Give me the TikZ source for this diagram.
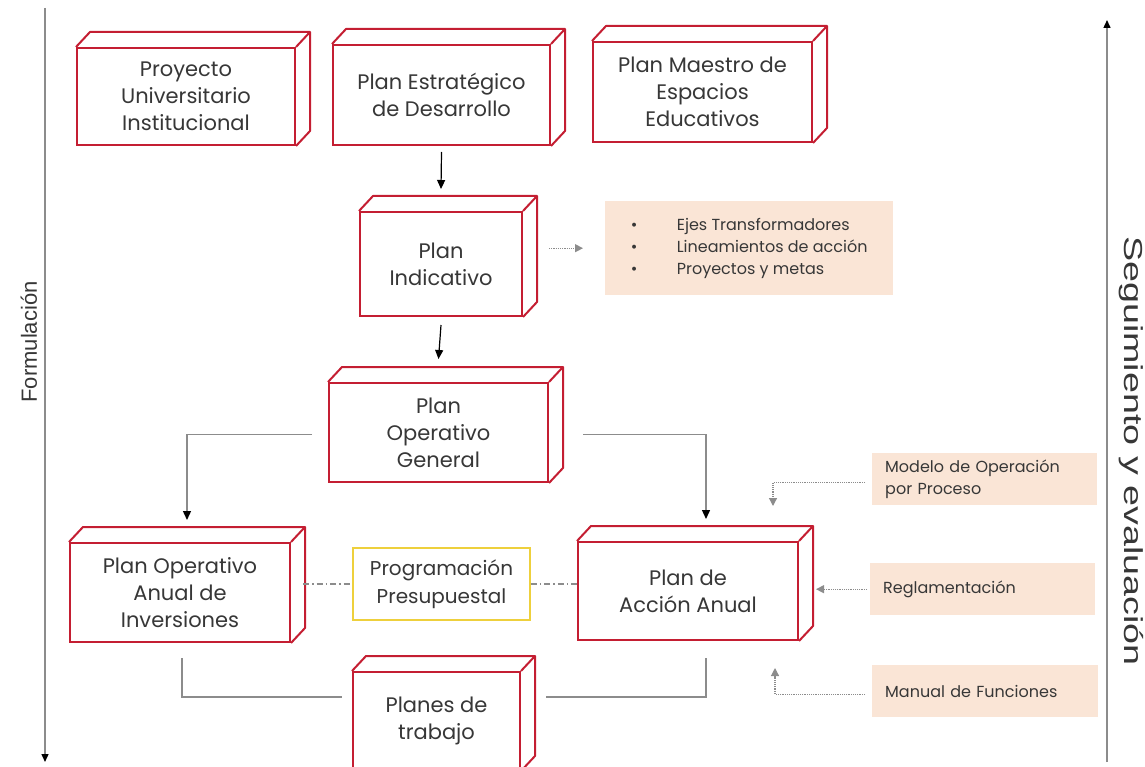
\documentclass[tikz,border=0pt]{standalone}
\usepackage{fontspec}
\setmainfont{Poppins}
\newfontfamily\axisfont{Liberation Sans}
\usetikzlibrary{arrows.meta,calc}
\definecolor{boxred}{RGB}{196,30,50}
\definecolor{peach}{RGB}{250,229,214}
\definecolor{ppyellow}{RGB}{238,208,60}
\definecolor{linegray}{RGB}{140,140,140}
\definecolor{txt}{RGB}{55,55,55}
\begin{document}
\begin{tikzpicture}[x=1pt,y=-1pt,
  cube/.style={draw=boxred,line width=2pt,fill=white,align=center,text=txt,
    font=\fontsize{21}{27}\selectfont,inner sep=0pt},
  cubeline/.style={draw=boxred,line width=2pt,line join=round},
  note/.style={fill=peach,align=left,text=txt,font=\fontsize{16}{22}\selectfont,
    inner ysep=0pt,inner xsep=13pt,anchor=north west},
  budget/.style={draw=ppyellow,line width=1.6pt,fill=white,align=center,text=txt,
    font=\fontsize{20}{28}\selectfont,inner sep=0pt},
  blackarr/.style={draw=black,line width=1.2pt,-{Triangle[length=9pt,width=8pt]}},
  conn/.style={draw=linegray,line width=1.4pt},
  connarr/.style={conn,-{Triangle[length=9pt,width=8pt,color=black]}},
  dashdot/.style={draw=linegray,line width=1.2pt,dash pattern=on 6pt off 3pt on 1.5pt off 3pt},
  dotarr/.style={draw=linegray,line width=1.2pt,densely dotted,-{Triangle[length=8pt,width=8pt,color=linegray]}},
  axisline/.style={draw=linegray,line width=1.4pt,-{Triangle[length=8pt,width=7pt,color=black]}},
  axislabel/.style={font=\axisfont\fontsize{22}{26}\selectfont,text=txt}
]
\useasboundingbox (0,0) rectangle (1145,767);
\clip (0,0) rectangle (1145,767);

% axes
\coordinate (ltop) at (45,8);
\coordinate (lbot) at (45,762);
\coordinate (rbot) at (1107,762);
\coordinate (rtop) at (1107,20);
\draw[axisline] (ltop) -- (lbot);
\draw[axisline] (rbot) -- (rtop);
\node[axislabel,rotate=90] (form) at (29,342) {Formulación};
\node[axislabel,rotate=-90,font=\axisfont\fontsize{26}{30}\selectfont] (seg) at (1131,451)
  {\scalebox{1.45}[1]{Seguimiento y evaluación}};

% 3D boxes (front faces)
\node[cube,minimum width=218pt,minimum height=97pt] (pui) at (186,96.5) {Proyecto\\Universitario\\Institucional};
\node[cube,minimum width=217pt,minimum height=100pt] (ped) at (441.5,95) {Plan Estratégico\\de Desarrollo};
\node[cube,minimum width=219pt,minimum height=100pt] (pme) at (702.5,92) {Plan Maestro de\\Espacios\\Educativos};
\node[cube,minimum width=162pt,minimum height=104pt] (pi) at (441,264) {Plan\\Indicativo};
\node[cube,minimum width=219pt,minimum height=99pt] (pog) at (438.5,432.5) {Plan\\Operativo\\General};
\node[cube,minimum width=220pt,minimum height=99pt] (poai) at (180,592.5) {Plan Operativo\\Anual de\\Inversiones};
\node[cube,minimum width=220pt,minimum height=98pt] (paa) at (688,591) {Plan de\\Acción Anual};
\node[cube,minimum width=167pt,minimum height=98pt] (pdt) at (436.5,721) {Planes de\\trabajo};

% top and side faces
\foreach \n in {pui,ped,pme,pi,pog,poai,paa,pdt}{
  \draw[cubeline] (\n.north west) -- ++(14,-15) -- ($(\n.north east)+(14,-15)$)
     -- ($(\n.south east)+(14,-15)$) -- (\n.south east);
  \draw[cubeline] (\n.north east) -- ++(14,-15);
}

% budget box
\node[budget,minimum width=177pt,minimum height=72pt] (pp) at (441.5,584) {Programación\\Presupuestal};

% notes
\node[note,minimum width=288pt,minimum height=94pt,inner xsep=7pt] (bul) at (605,201)
  {\makebox[46pt][l]{•}Ejes Transformadores\\\makebox[46pt][l]{•}Lineamientos de acción\\\makebox[46pt][l]{•}Proyectos y metas};
\node[note,minimum width=225pt,minimum height=52pt,text width=199pt] (mod) at (872,453) {Modelo de Operación\\por Proceso};
\node[note,minimum width=225pt,minimum height=52pt,text width=199pt] (reg) at (870,563) {Reglamentación};
\node[note,minimum width=226pt,minimum height=52pt,text width=200pt] (man) at (872,665) {Manual de Funciones};

% main flow
\draw[blackarr] ([yshift=-6pt]ped.south) -- ([yshift=22pt]pi.north);
\draw[blackarr] ([yshift=-8pt]pi.south) -- ([yshift=23pt]pog.north);
\draw[connarr] ([xshift=-16pt,yshift=-2pt]pog.west) -| ($(poai.north)+(7,-22)$);
\draw[connarr] ([xshift=34pt,yshift=-2pt]pog.east) -| ($(paa.north)+(18,-22)$);

% budget links
\draw[dashdot] ($(poai.east)+(12,-8.5)$) -- (pp.west);
\draw[dashdot] (pp.east) -- (paa.west |- pp.east);

% planes de trabajo links
\draw[conn] ($(poai.south)+(2,15)$) |- ($(pdt.west)+(-10,-24)$);
\draw[conn] ($(paa.south)+(18,17)$) |- ($(pdt.east)+(25,-24)$);

% dotted inputs
\draw[dotarr] ([xshift=26pt]pi.east |- bul.west) -- ([xshift=-22pt]bul.west);
\draw[dotarr] ([xshift=-7pt,yshift=-3pt]mod.west) -| ($(paa.north)+(85,-35)$);
\draw[dotarr] ([xshift=-3pt]reg.west) -- ([xshift=17pt]paa.east |- reg.west);
\draw[dotarr] ([xshift=-7pt,yshift=-3pt]man.west) -| ($(paa.south)+(87,27)$);
\end{tikzpicture}
\end{document}
